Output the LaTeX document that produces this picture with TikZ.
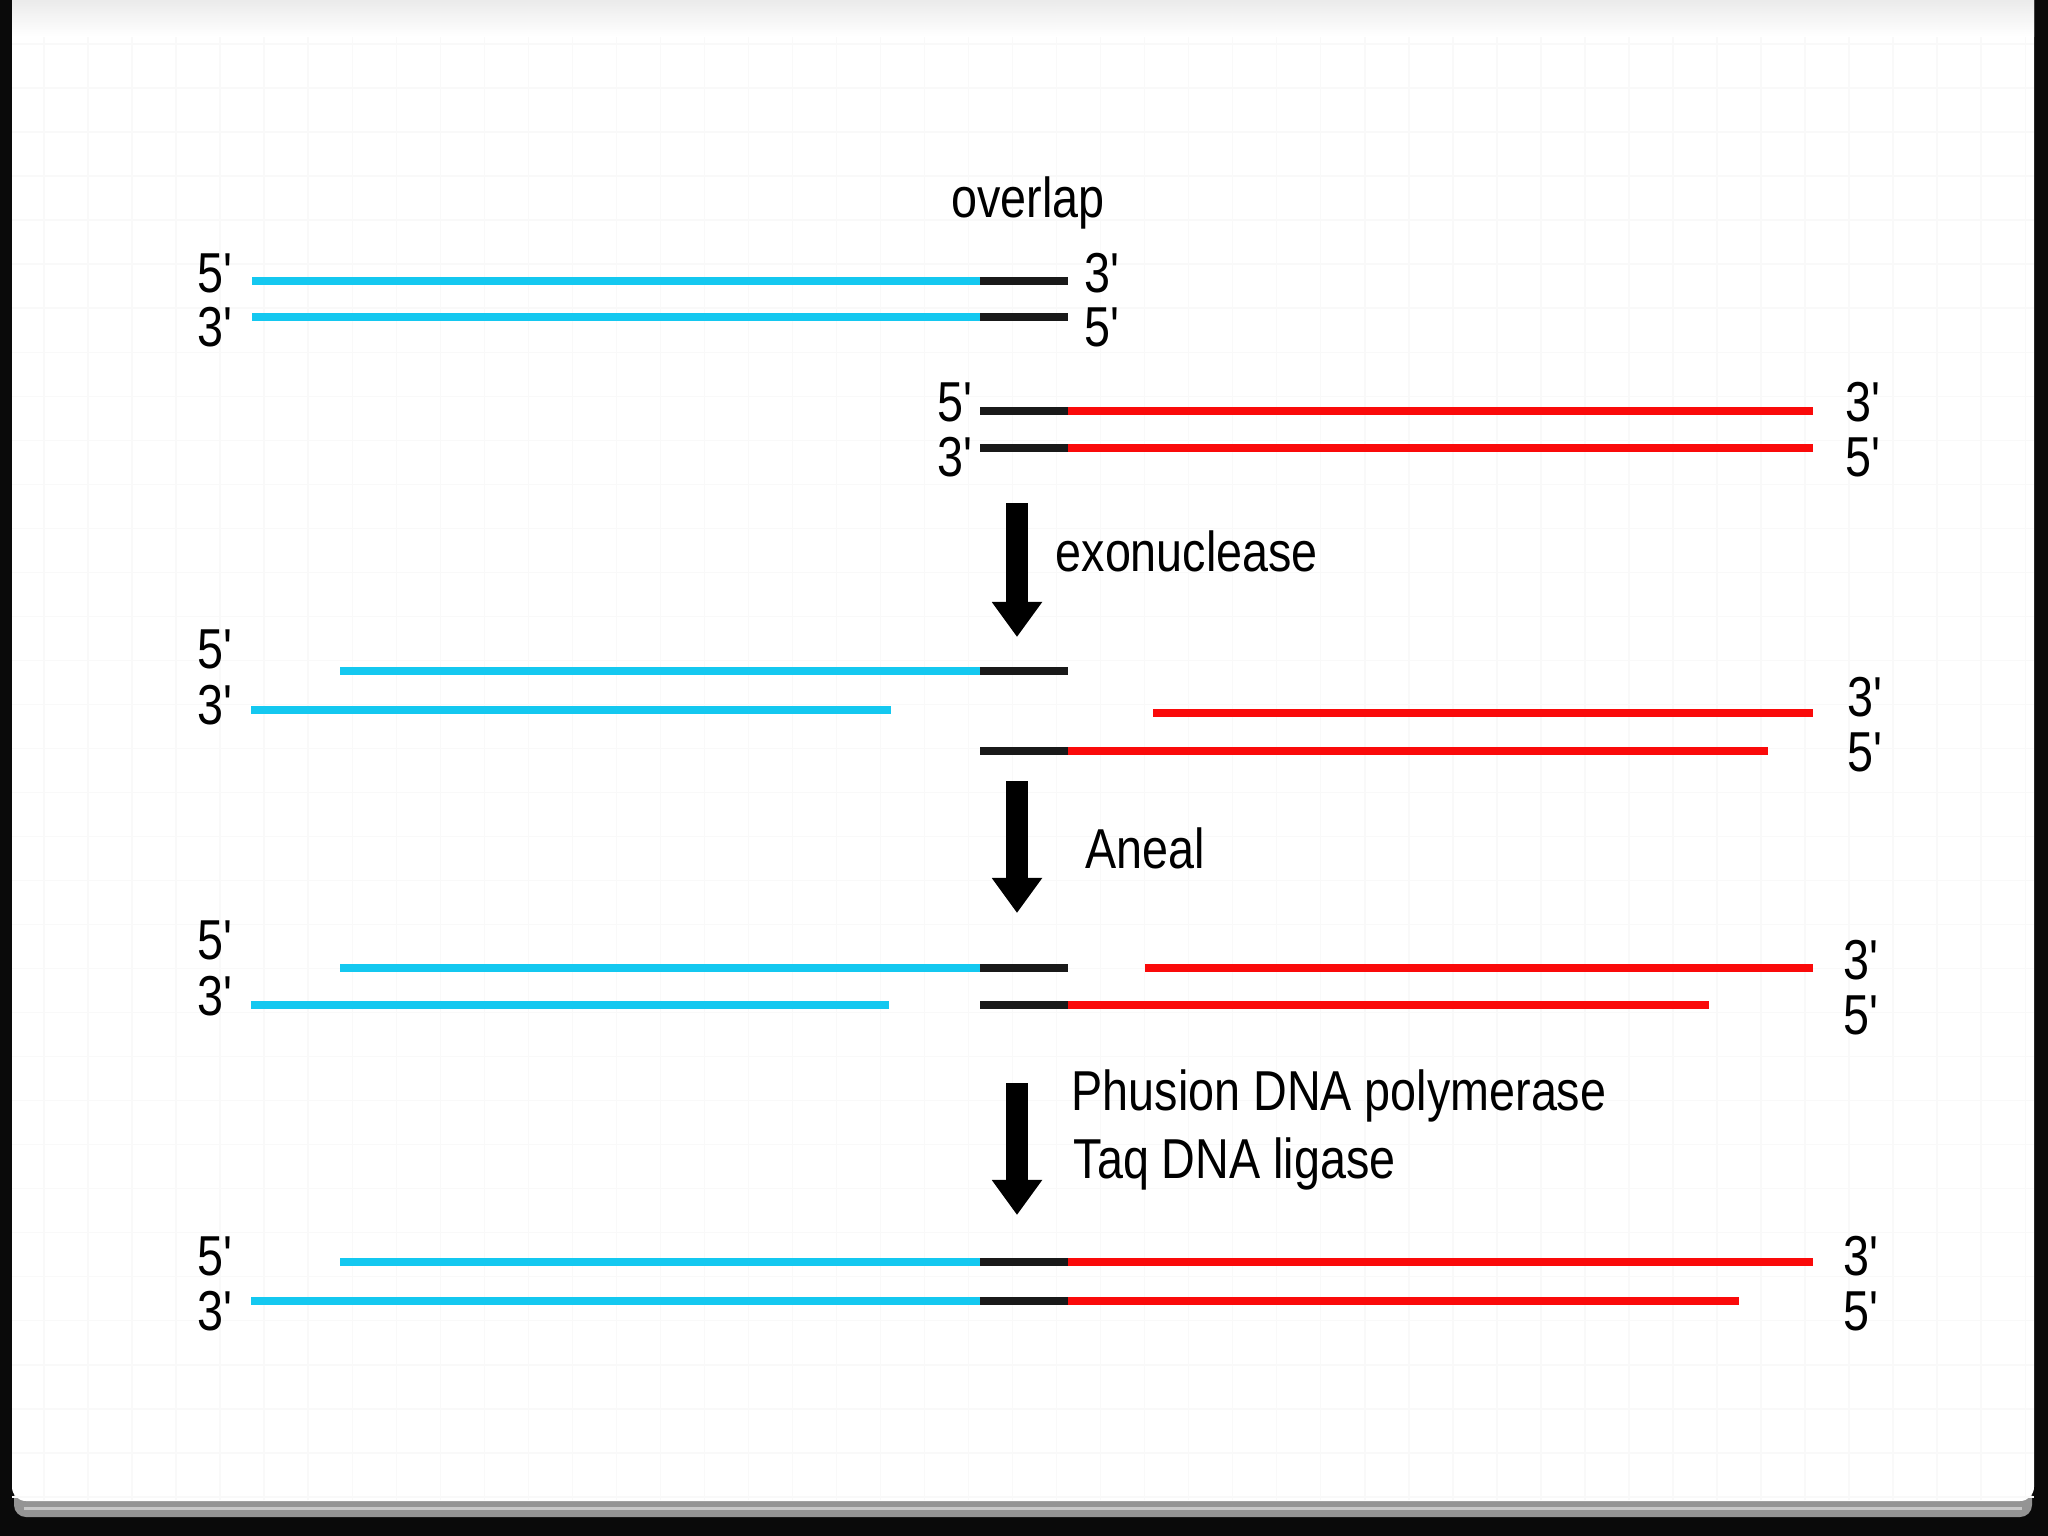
\documentclass[tikz,border=0pt]{standalone}
\usepackage{fontspec}
\setmainfont{Liberation Sans}[FakeStretch=0.83]
\usetikzlibrary{positioning,arrows.meta}
\definecolor{dnablue}{RGB}{20,200,240}
\definecolor{dnared}{RGB}{250,10,10}
\definecolor{ovlblack}{RGB}{25,25,25}
\newcommand{\fivep}{5\textquotesingle}
\newcommand{\threep}{3\textquotesingle}

\begin{document}
\begin{tikzpicture}[
    x=0.01cm, y=-0.01cm,
    font=\fontsize{16}{19.3}\selectfont,
    strandb/.style={draw=dnablue, line width=0.08cm},
    strandr/.style={draw=dnared, line width=0.08cm},
    ovl/.style={draw=ovlblack, line width=0.08cm},
    endlbl/.style={inner sep=0pt},
    steplbl/.style={inner sep=0pt, anchor=base west},
    bigarr/.style={draw=black, line width=0.22cm, -{Triangle[width=0.48cm,length=0.35cm]}}
  ]
    \useasboundingbox (0,0) rectangle (2048,1536);
    \fill[black!96] (0,0) rectangle (2048,1536);
    \fill[black!42, rounded corners=0.12cm] (14,1480) rectangle (2032,1517);
    \draw[black!22, line width=0.03cm] (24,1508) -- (2022,1508);
    \fill[white, rounded corners=0.14cm] (12,-40) rectangle (2034,1501);
    \draw[black!2.5, step=0.44cm] (12,0) grid (2034,1500);
    \shade[top color=black!8, bottom color=white] (12,0) rectangle (2034,36);

    \node (overlap) at (1028,217) [anchor=base] {overlap};

    \draw[strandb] (252,281) -- (980,281);
    \draw[ovl] (980,281) -- (1068,281);
    \draw[strandb] (252,317) -- (980,317);
    \draw[ovl] (980,317) -- (1068,317);
    \node[endlbl] (r1l5) at (216,273) {\fivep};
    \node[endlbl] (r1l3) at (216,327) {\threep};
    \node[endlbl] (r1r3) at (1103,273) {\threep};
    \node[endlbl] (r1r5) at (1103,327) {\fivep};

    \draw[ovl] (980,411) -- (1068,411);
    \draw[strandr] (1068,411) -- (1813,411);
    \draw[ovl] (980,448) -- (1068,448);
    \draw[strandr] (1068,448) -- (1813,448);
    \node[endlbl] (r2l5) at (956,402) {\fivep};
    \node[endlbl] (r2l3) at (956,457) {\threep};
    \node[endlbl] (r2r3) at (1864,402) {\threep};
    \node[endlbl] (r2r5) at (1864,457) {\fivep};

    \coordinate (a1s) at (1017,503);
    \coordinate (a1e) at (1017,637);
    \draw[bigarr] (a1s) -- (a1e);
    \node[steplbl] (exo) at (1055,571) {exonuclease};

    \draw[strandb] (340,671) -- (980,671);
    \draw[ovl] (980,671) -- (1068,671);
    \draw[strandb] (251,710) -- (891,710);
    \draw[strandr] (1153,713) -- (1813,713);
    \draw[ovl] (980,751) -- (1068,751);
    \draw[strandr] (1068,751) -- (1768,751);
    \node[endlbl] (r3l5) at (216,649) {\fivep};
    \node[endlbl] (r3l3) at (216,705) {\threep};
    \node[endlbl] (r3r3) at (1866,697) {\threep};
    \node[endlbl] (r3r5) at (1866,752) {\fivep};

    \coordinate (a2s) at (1017,781);
    \coordinate (a2e) at (1017,913);
    \draw[bigarr] (a2s) -- (a2e);
    \node[steplbl] (aneal) at (1085,868) {Aneal};

    \draw[strandb] (340,968) -- (980,968);
    \draw[ovl] (980,968) -- (1068,968);
    \draw[strandr] (1145,968) -- (1813,968);
    \draw[strandb] (251,1005) -- (889,1005);
    \draw[ovl] (980,1005) -- (1068,1005);
    \draw[strandr] (1068,1005) -- (1709,1005);
    \node[endlbl] (r4l5) at (216,940) {\fivep};
    \node[endlbl] (r4l3) at (216,996) {\threep};
    \node[endlbl] (r4r3) at (1862,960) {\threep};
    \node[endlbl] (r4r5) at (1862,1015) {\fivep};

    \coordinate (a3s) at (1017,1083);
    \coordinate (a3e) at (1017,1215);
    \draw[bigarr] (a3s) -- (a3e);
    \node[steplbl] (phusion) at (1071,1110) {Phusion DNA polymerase};
    \node[steplbl] (taq) at ([xshift=0.02cm, yshift=-0.68cm]phusion.base west) {Taq DNA ligase};

    \draw[strandb] (340,1262) -- (980,1262);
    \draw[ovl] (980,1262) -- (1068,1262);
    \draw[strandr] (1068,1262) -- (1813,1262);
    \draw[strandb] (251,1301) -- (980,1301);
    \draw[ovl] (980,1301) -- (1068,1301);
    \draw[strandr] (1068,1301) -- (1739,1301);
    \node[endlbl] (r5l5) at (216,1256) {\fivep};
    \node[endlbl] (r5l3) at (216,1311) {\threep};
    \node[endlbl] (r5r3) at (1862,1256) {\threep};
    \node[endlbl] (r5r5) at (1862,1311) {\fivep};
  \end{tikzpicture}
\end{document}
